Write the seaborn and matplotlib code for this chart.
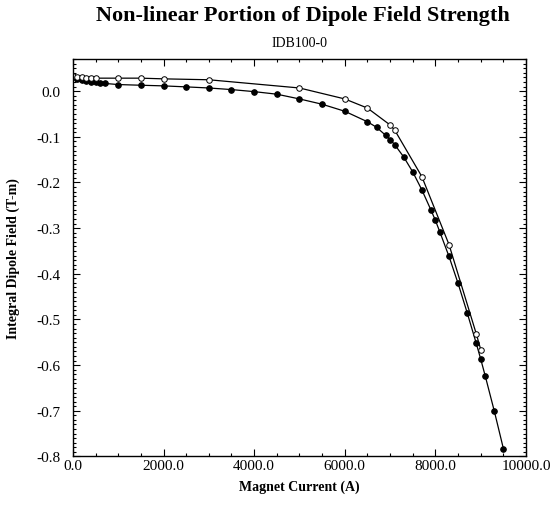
"""Non-linear portion of dipole field strength, IDB100-0."""

import seaborn as sns
import matplotlib.pyplot as plt
from matplotlib.ticker import MultipleLocator, FormatStrFormatter
import pandas as pd

# open circles series
current_open = [0, 100, 200, 300, 400, 500, 1000, 1500, 2000, 3000, 5000,
                6000, 6500, 7000, 7100, 7700, 8300, 8900, 9000]
field_open = [0.033, 0.031, 0.030, 0.029, 0.029, 0.0285, 0.0285, 0.0285, 0.027,
              0.025, 0.007, -0.017, -0.037, -0.074, -0.085, -0.187, -0.336,
              -0.531, -0.566]

# filled circles series
current_filled = [0, 100, 200, 300, 400, 500, 600, 700, 1000, 1500, 2000, 2500,
                  3000, 3500, 4000, 4500, 5000, 5500, 6000, 6500, 6700, 6900,
                  7000, 7100, 7300, 7500, 7700, 7900, 8000, 8100, 8300, 8500,
                  8700, 8900, 9000, 9100, 9300, 9500]
field_filled = [0.030, 0.026, 0.024, 0.022, 0.021, 0.020, 0.018, 0.017, 0.0145,
                0.013, 0.0116, 0.0094, 0.007, 0.0035, -0.001, -0.0066, -0.017,
                -0.0286, -0.044, -0.067, -0.079, -0.0965, -0.106, -0.117,
                -0.144, -0.177, -0.216, -0.260, -0.283, -0.309, -0.362, -0.421,
                -0.485, -0.552, -0.587, -0.624, -0.701, -0.783]

df_open = pd.DataFrame({'current': current_open, 'field': field_open})
df_filled = pd.DataFrame({'current': current_filled, 'field': field_filled})

sns.set_style('ticks')
plt.rcParams['font.family'] = ['Liberation Serif', 'DejaVu Serif']
plt.rcParams['axes.unicode_minus'] = False
plt.rcParams['text.color'] = 'black'
plt.rcParams['axes.labelcolor'] = 'black'
plt.rcParams['xtick.color'] = 'black'
plt.rcParams['ytick.color'] = 'black'

fig = plt.figure(figsize=(5.52, 5.06), dpi=100)
ax = fig.add_axes([0.132, 0.096, 0.821, 0.785])

sns.lineplot(data=df_filled, x='current', y='field', ax=ax, sort=False,
             color='black', linewidth=0.9, marker='o', markersize=4,
             markerfacecolor='black', markeredgecolor='black')
sns.lineplot(data=df_open, x='current', y='field', ax=ax, sort=False,
             color='black', linewidth=0.9, marker='o', markersize=4,
             markerfacecolor='white', markeredgecolor='black',
             markeredgewidth=0.7)

ax.set_xlim(0, 10000)
ax.set_ylim(-0.8, 0.07)
ax.xaxis.set_major_locator(MultipleLocator(2000))
ax.xaxis.set_minor_locator(MultipleLocator(500))
ax.yaxis.set_major_locator(MultipleLocator(0.1))
ax.yaxis.set_minor_locator(MultipleLocator(0.01))
ax.xaxis.set_major_formatter(FormatStrFormatter('%.1f'))
ax.yaxis.set_major_formatter(FormatStrFormatter('%.1f'))
ax.tick_params(which='both', direction='in', top=True, right=True,
               labelsize=11, width=0.8)
ax.tick_params(axis='y', which='major', pad=9)
ax.tick_params(axis='x', which='major', pad=2)
ax.tick_params(which='major', length=5)
ax.tick_params(which='minor', length=2.5)
for spine in ax.spines.values():
    spine.set_linewidth(1.0)
    spine.set_color('black')

ax.set_xlabel('Magnet Current (A)', fontsize=10, fontweight='bold', labelpad=5)
ax.set_ylabel('Integral Dipole Field (T-m)', fontsize=10, fontweight='bold',
              labelpad=12)

fig.text(0.548, 0.969, 'Non-linear Portion of Dipole Field Strength',
         ha='center', va='center', fontsize=16, fontweight='bold')
fig.text(0.542, 0.915, 'IDB100-0', ha='center', va='center', fontsize=10)

fig.savefig('out.png', dpi=100)
plt.close(fig)
